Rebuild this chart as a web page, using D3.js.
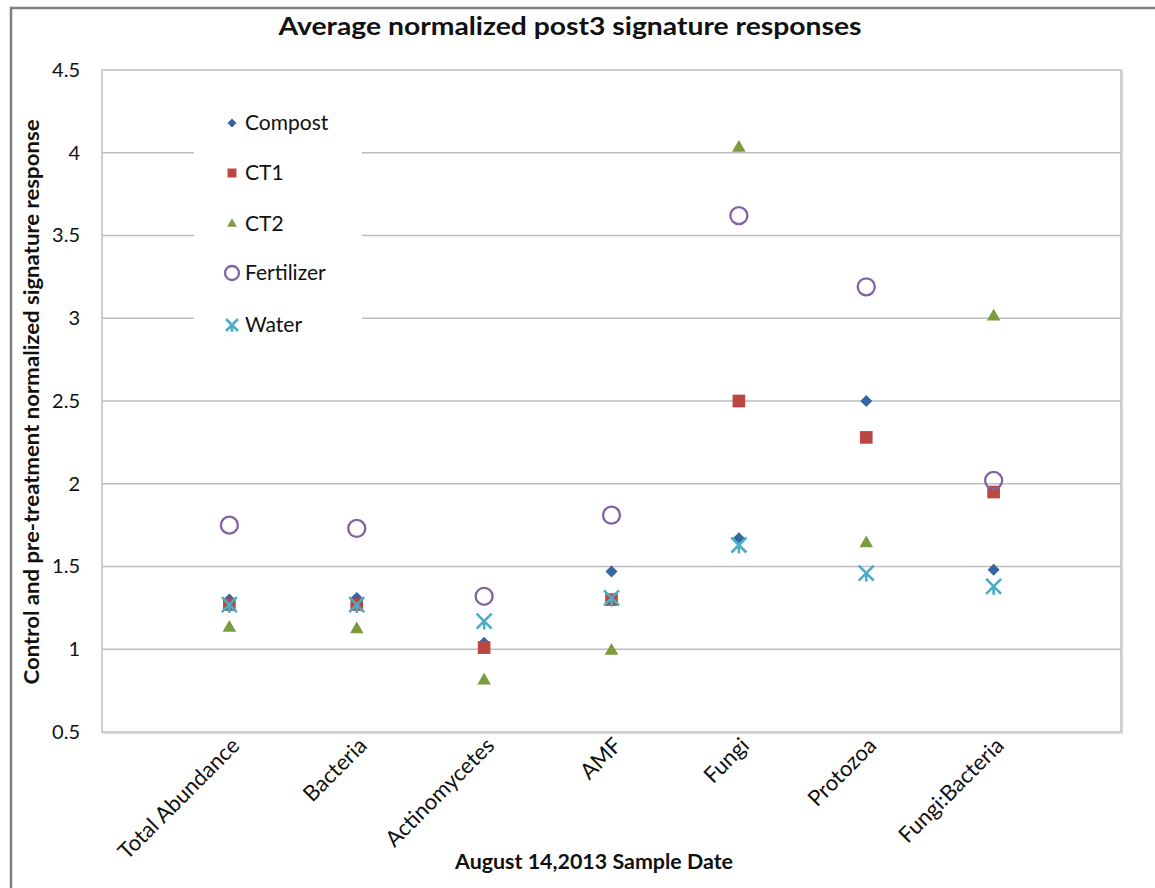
<!DOCTYPE html>
<html>
<head>
<meta charset="utf-8">
<script src="https://cdn.jsdelivr.net/npm/d3@7"></script>
<style>
  html, body { margin: 0; padding: 0; background: #fff; }
  svg text { font-family: Lato, "Open Sans", sans-serif; fill: #111; }
</style>
</head>
<body>
<svg id="chart" width="1155" height="888"></svg>
<script>
// Sample groups along the x axis
const categories = ["Total Abundance", "Bacteria", "Actinomycetes", "AMF", "Fungi", "Protozoa", "Fungi:Bacteria"];

// Treatment responses, one value per category
const compost    = [1.30, 1.31, 1.04, 1.47, 1.67, 2.50, 1.48];
const ct1        = [1.27, 1.27, 1.01, 1.30, 2.50, 2.28, 1.95];
const ct2        = [1.13, 1.12, 0.81, 0.99, 4.03, 1.64, 3.01];
const fertilizer = [1.75, 1.73, 1.32, 1.81, 3.62, 3.19, 2.02];
const water      = [1.27, 1.27, 1.17, 1.31, 1.63, 1.46, 1.38];

const yTicks = [0.5, 1, 1.5, 2, 2.5, 3, 3.5, 4, 4.5];
const yTickLabels = ["0.5", "1", "1.5", "2", "2.5", "3", "3.5", "4", "4.5"];

const seriesNames = ["Compost", "CT1", "CT2", "Fertilizer", "Water"];
const seriesValues = [compost, ct1, ct2, fertilizer, water];

const svg = d3.select("#chart");
const plot = { left: 102, top: 70, right: 1121, bottom: 732 };

const x = d3.scalePoint().domain(categories).range([plot.left, plot.right]).padding(1);
const y = d3.scaleLinear().domain([0.5, 4.5]).range([plot.bottom, plot.top]);

// Outer chart frame (left and top edges visible)
svg.append("path")
  .attr("d", "M11,888 L11,8 L1155,8")
  .attr("fill", "none").attr("stroke", "#7f7f7f").attr("stroke-width", 2.5);

// Horizontal gridlines
const grid = svg.append("g");
grid.selectAll("line").data(yTicks.slice(1, -1)).join("line")
  .attr("x1", plot.left).attr("x2", plot.right)
  .attr("y1", d => y(d)).attr("y2", d => y(d))
  .attr("stroke", "#bdbdbd").attr("stroke-width", 1.6);

// Plot area border
svg.append("rect")
  .attr("x", plot.left).attr("y", plot.top)
  .attr("width", plot.right - plot.left).attr("height", plot.bottom - plot.top)
  .attr("fill", "none").attr("stroke", "#c4c4c4").attr("stroke-width", 1.6);
svg.append("path")
  .attr("d", `M${plot.right + 1},${plot.top} L${plot.right + 1},${plot.bottom + 1} L${plot.left},${plot.bottom + 1}`)
  .attr("fill", "none").attr("stroke", "#d0d0d0").attr("stroke-width", 1.6);

// Y axis tick labels
const yAxis = d3.axisLeft(y).tickValues(yTicks)
  .tickFormat((d, i) => yTickLabels[i]).tickSize(0).tickPadding(22);
svg.append("g").attr("transform", `translate(${plot.left},0)`).call(yAxis)
  .call(g => g.select(".domain").remove())
  .selectAll("text")
  .style("font-family", "Lato, sans-serif").style("font-size", "20px").attr("fill", "#1a1a1a");

// X axis category labels, rotated
const xAxis = d3.axisBottom(x).tickSize(0).tickPadding(0);
svg.append("g").attr("transform", `translate(0,${plot.bottom})`).call(xAxis)
  .call(g => g.select(".domain").remove())
  .selectAll("text")
  .attr("text-anchor", "end")
  .attr("dy", "0")
  .attr("transform", "translate(11,15) rotate(-45)")
  .style("font-family", "Lato, sans-serif").style("font-size", "22px").attr("fill", "#1a1a1a");

// Titles
svg.append("text")
  .attr("x", 570).attr("y", 35).attr("text-anchor", "middle")
  .attr("textLength", 583).attr("lengthAdjust", "spacingAndGlyphs")
  .style("font-size", "25px").style("font-weight", "bold")
  .text("Average normalized post3 signature responses");

svg.append("text")
  .attr("x", 594).attr("y", 869).attr("text-anchor", "middle")
  .attr("textLength", 278).attr("lengthAdjust", "spacingAndGlyphs")
  .style("font-size", "20px").style("font-weight", "bold")
  .text("August 14,2013 Sample Date");

svg.append("text")
  .attr("transform", "translate(39,402) rotate(-90)")
  .attr("text-anchor", "middle")
  .attr("textLength", 565).attr("lengthAdjust", "spacingAndGlyphs")
  .style("font-size", "20px").style("font-weight", "bold")
  .text("Control and pre-treatment normalized signature response");

// Marker styles per series
const styles = [
  { shape: "diamond", half: 6, fill: "#3565a3" },
  { shape: d3.symbolSquare, size: 160, fill: "#bb4643" },
  { shape: d3.symbolTriangle, size: 80, fill: "#7b9b3f" },
  { shape: "circle", r: 8.5, stroke: "#8064a2" },
  { shape: "star", half: 7.5, stroke: "#4bacc6" }
];

function drawMarker(g, st) {
  if (st.shape === "circle") {
    g.append("circle").attr("r", st.r).attr("fill", "none")
      .attr("stroke", st.stroke).attr("stroke-width", 2.3);
  } else if (st.shape === "star") {
    const h = st.half;
    g.append("path")
      .attr("d", `M${-h},${-h}L${h},${h}M${-h},${h}L${h},${-h}M0,0L0,${h + 1}`)
      .attr("fill", "none").attr("stroke", st.stroke).attr("stroke-width", 2.6);
  } else if (st.shape === "diamond") {
    const h = st.half;
    g.append("path").attr("d", `M0,${-h}L${h},0L0,${h}L${-h},0Z`).attr("fill", st.fill);
  } else {
    g.append("path").attr("d", d3.symbol(st.shape, st.size)()).attr("fill", st.fill);
  }
}

// Data points
const marks = svg.append("g");
seriesValues.forEach((vals, si) => {
  const sg = marks.append("g").attr("class", "series-" + seriesNames[si]);
  vals.forEach((v, ci) => {
    const g = sg.append("g").attr("transform", `translate(${x(categories[ci])},${y(v)})`);
    drawMarker(g, styles[si]);
  });
});

// Legend
const legend = svg.append("g");
legend.append("rect").attr("x", 194).attr("y", 98).attr("width", 168).attr("height", 250).attr("fill", "#fff");
const legendY = [123, 173, 224, 273, 325];
seriesNames.forEach((name, i) => {
  const g = legend.append("g").attr("transform", `translate(232,${legendY[i]})`);
  const st = Object.assign({}, styles[i]);
  if (st.shape === "circle") st.r = 7;
  if (st.shape === "star") st.half = 6;
  if (st.shape === "diamond") st.half = 4.5;
  if (st.size) st.size = st.size * 0.5;
  drawMarker(g, st);
  legend.append("text").attr("x", 245).attr("y", legendY[i]).attr("dy", "0.35em")
    .style("font-size", "21px").text(name);
});
</script>
</body>
</html>
